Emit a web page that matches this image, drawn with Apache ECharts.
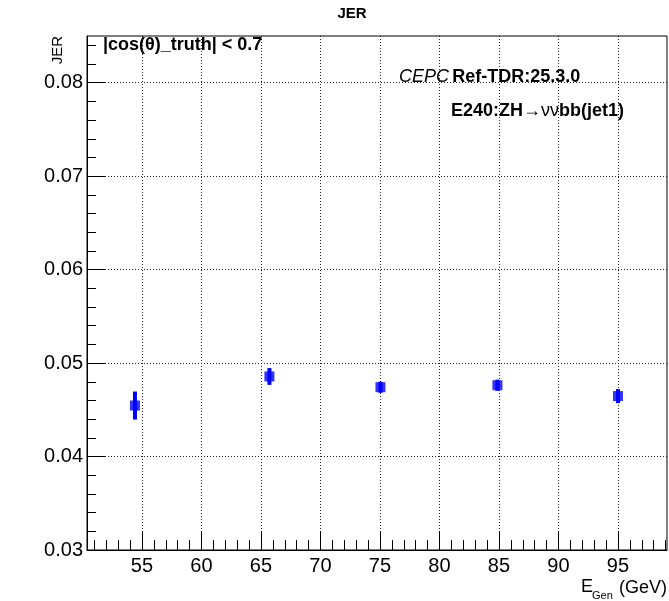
<!DOCTYPE html>
<html>
<head>
<meta charset="utf-8">
<script src="https://cdn.jsdelivr.net/npm/echarts@6/dist/echarts.min.js"></script>
<style>
  html, body { margin: 0; padding: 0; background: #fff; }
  #chart { width: 669px; height: 601px; }
</style>
</head>
<body>
<div id="chart"></div>
<script>
// generated energy of each point (GeV)
var energy = [54.41, 65.71, 75.04, 84.87, 95.0];
// jet energy resolution and its error
var jer = [0.04546, 0.04857, 0.04742, 0.04763, 0.04647];
var jerErr = [0.0015, 0.0009, 0.0006, 0.0006, 0.00075];

var xTicks = [55, 60, 65, 70, 75, 80, 85, 90, 95];
var yTicks = [0.03, 0.04, 0.05, 0.06, 0.07, 0.08];

var xMinor = [];
for (var i = 51; i <= 99; i++) { xMinor.push(i); }
var yMinor = [];
for (var k = 16; k <= 42; k++) { yMinor.push(k * 0.002); }

var font = 'Liberation Sans';
var blue = '#0000ff';

var myChart = echarts.init(document.getElementById('chart'));

var points = energy.map(function(e, i){ return [e, jer[i], jerErr[i]]; });

var dotted = { color: '#222', width: 1, type: [1, 2] };

var option = {
    animation: false,
    grid: {
        left: 87, right: 2, top: 36, bottom: 51,
        show: true, borderColor: '#000', borderWidth: 1
    },
    xAxis: [{
        type: 'value', min: 50.38, max: 99.12, position: 'bottom',
        axisLine: { lineStyle: { color: '#000', width: 1 } },
        axisTick: { inside: true, length: 19, customValues: xTicks, lineStyle: { color: '#000' } },
        axisLabel: { customValues: xTicks, fontFamily: font, fontSize: 20, color: '#000', margin: 6 },
        splitLine: { show: true, lineStyle: dotted }
    }, {
        type: 'value', min: 50.38, max: 99.12, position: 'bottom', offset: 0,
        axisLine: { show: false },
        axisTick: { inside: true, length: 10, customValues: xMinor, lineStyle: { color: '#000' } },
        axisLabel: { show: false },
        splitLine: { show: false }
    }],
    yAxis: [{
        type: 'value', min: 0.03, max: 0.085, position: 'left',
        axisLine: { show: true, lineStyle: { color: '#000', width: 1 } },
        axisTick: { show: true, inside: true, length: 18, customValues: yTicks, lineStyle: { color: '#000' } },
        axisLabel: {
            customValues: yTicks, fontFamily: font, fontSize: 20, color: '#000', margin: 4,
            formatter: function(v){ return v.toFixed(2); }
        },
        splitLine: { show: true, lineStyle: dotted }
    }, {
        type: 'value', min: 0.03, max: 0.085, position: 'left', offset: 0,
        axisLine: { show: false },
        axisTick: { show: true, inside: true, length: 9, customValues: yMinor, lineStyle: { color: '#000' } },
        axisLabel: { show: false },
        splitLine: { show: false }
    }],
    series: [{
        type: 'custom',
        xAxisIndex: 0, yAxisIndex: 0,
        data: points,
        renderItem: function(params, api){
            var x = api.value(0), y = api.value(1), e = api.value(2);
            var top = api.coord([x, y + e]);
            var bot = api.coord([x, y - e]);
            return {
                type: 'rect',
                shape: { x: top[0] - 2, y: top[1], width: 4, height: bot[1] - top[1] },
                style: { fill: blue }
            };
        },
        z: 3
    }, {
        type: 'scatter',
        xAxisIndex: 0, yAxisIndex: 0,
        data: points,
        symbol: 'rect',
        symbolSize: [10, 10],
        itemStyle: { color: blue },
        z: 4
    }],
    graphic: [
        { type: 'text', x: 352, y: 14, style: { text: 'JER', font: 'bold 15px "Liberation Sans"', fill: '#000', align: 'center', verticalAlign: 'middle' } },
        { type: 'text', x: 58, y: 50, rotation: Math.PI / 2, style: { text: 'JER', font: '15px "Liberation Sans"', fill: '#000', align: 'center', verticalAlign: 'middle' } },
        { type: 'text', x: 667, y: 588, style: { text: '(GeV)', font: '18px "Liberation Sans"', fill: '#000', align: 'right', verticalAlign: 'middle' } },
        { type: 'text', x: 581, y: 587, style: { text: 'E', font: '18px "Liberation Sans"', fill: '#000', align: 'left', verticalAlign: 'middle' } },
        { type: 'text', x: 592, y: 596, style: { text: 'Gen', font: '11px "Liberation Sans"', fill: '#000', align: 'left', verticalAlign: 'middle' } },
        { type: 'text', x: 103, y: 45, style: { text: '|cos(θ)_truth| < 0.7', font: 'bold 18px "Liberation Sans"', fill: '#000', align: 'left', verticalAlign: 'middle' } },
        { type: 'text', x: 399, y: 77, style: {
            text: '{i|CEPC} {b|Ref-TDR:25.3.0}', align: 'left', verticalAlign: 'middle',
            rich: {
                i: { fontFamily: font, fontStyle: 'italic', fontSize: 18, fill: '#000' },
                b: { fontFamily: font, fontWeight: 'bold', fontSize: 18, fill: '#000' }
            }
        } },
        { type: 'text', x: 451, y: 111, style: {
            text: '{b|E240:ZH}{r|→νν}{b|bb(jet1)}', align: 'left', verticalAlign: 'middle',
            rich: {
                b: { fontFamily: font, fontWeight: 'bold', fontSize: 18, fill: '#000' },
                r: { fontFamily: font, fontSize: 18, fill: '#000' }
            }
        } }
    ]
};

myChart.setOption(option);
</script>
</body>
</html>
